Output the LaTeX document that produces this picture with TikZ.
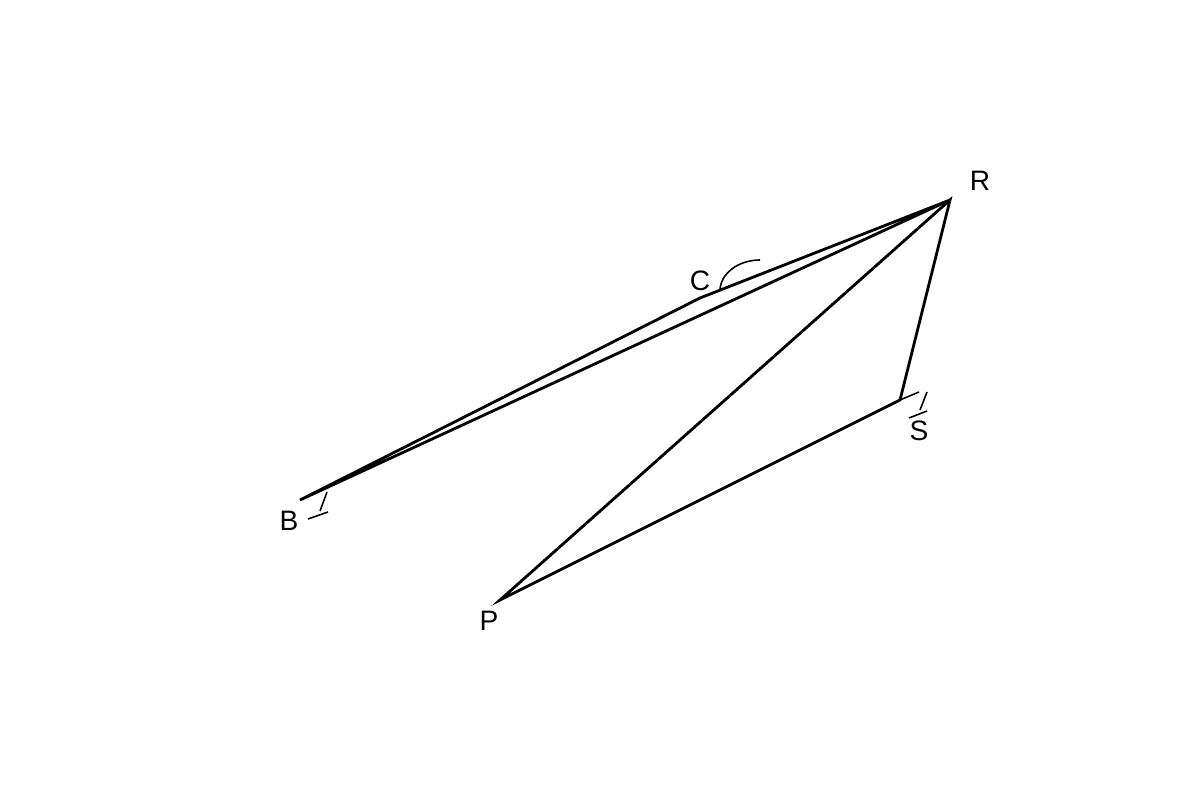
\documentclass[tikz,border=0pt]{standalone}
\usepackage{fontspec}
\setmainfont{Liberation Sans}
\usetikzlibrary{calc, positioning}

\begin{document}
\begin{tikzpicture}[seg/.style={line width=1.6pt}, tick/.style={line width=0.9pt}, lbl/.style={font=\fontsize{16}{18}\selectfont}]
    \useasboundingbox (0, 0) rectangle (24, 16);

    \coordinate (B) at (6, 6);
    \coordinate (C) at (14, 10.04);
    \coordinate (R) at (19, 12);
    \coordinate (S) at (18, 8);
    \coordinate (P) at (10, 4);

    \node[lbl] (lB) at (5.78, 5.58) {B};
    \node[lbl] (lC) at (14, 10.38) {C};
    \node[lbl] (lR) at (19.6, 12.38) {R};
    \node[lbl] (lS) at (18.38, 7.38) {S};
    \node[lbl] (lP) at (9.78, 3.58) {P};

    \draw[seg] (B) -- (C) -- (R) -- cycle;
    \draw[seg] (R) -- (P) -- (S) -- cycle;

    % angle mark at C
    \draw[tick] ($(C) + (0.4, 0.14)$) arc[start angle=180, end angle=90, x radius=0.8, y radius=0.62];

    % marks at B and S
    \draw[tick] ($(B) + (0.4, -0.22)$) -- ($(B) + (0.54, 0.16)$);
    \draw[tick] ($(B) + (0.16, -0.38)$) -- ($(B) + (0.56, -0.24)$);
    \draw[tick] (S) -- ($(S) + (0.38, 0.16)$);
    \draw[tick] ($(S) + (0.4, -0.2)$) -- ($(S) + (0.54, 0.16)$);
    \draw[tick] ($(S) + (0.18, -0.36)$) -- ($(S) + (0.54, -0.22)$);
\end{tikzpicture}
\end{document}
